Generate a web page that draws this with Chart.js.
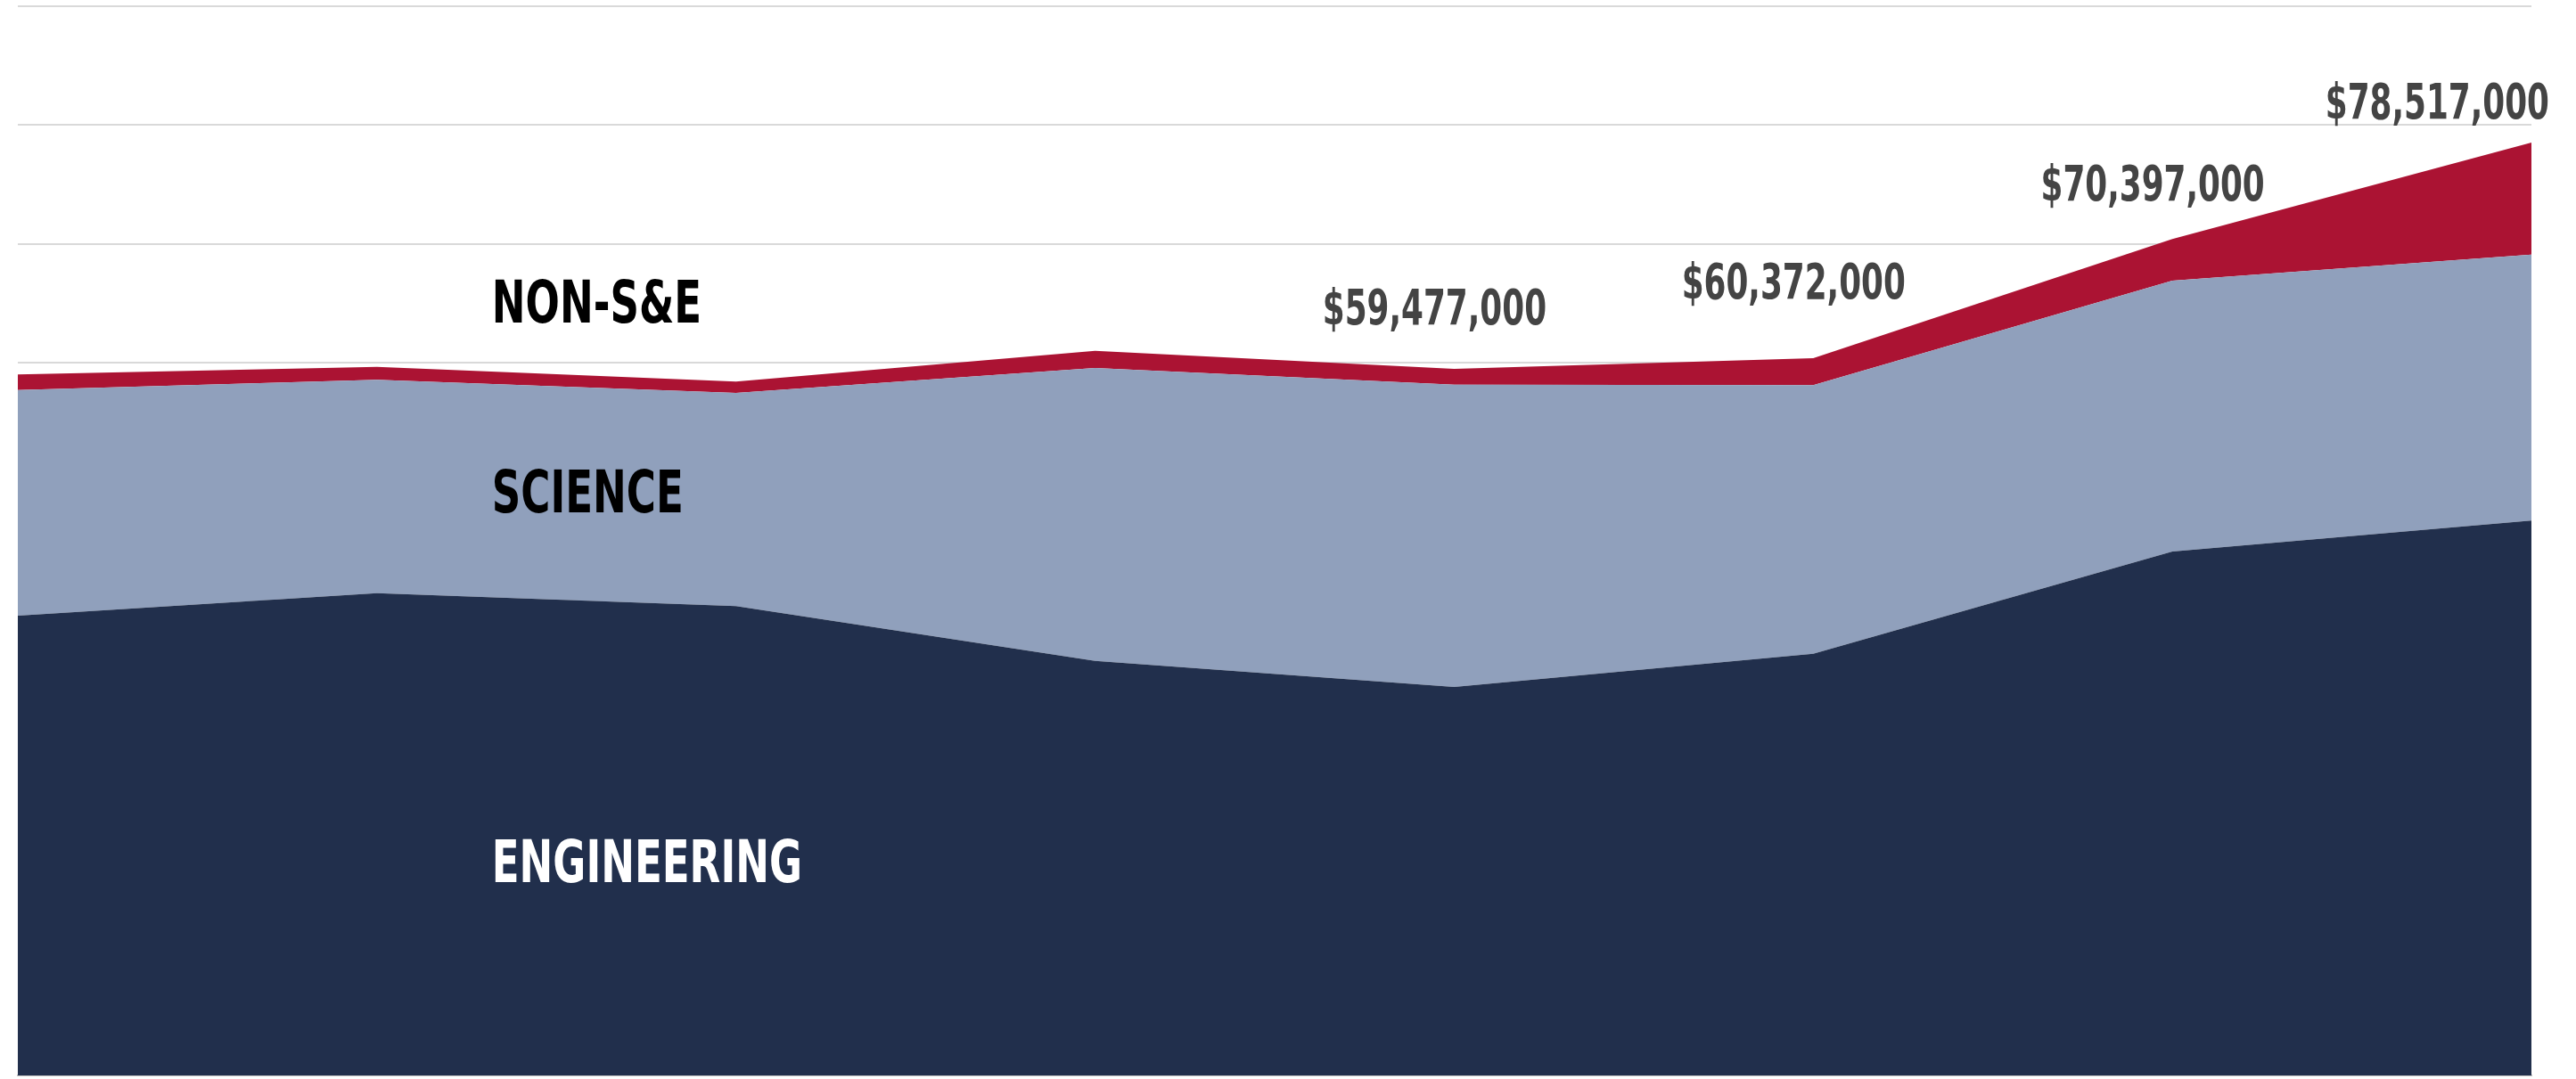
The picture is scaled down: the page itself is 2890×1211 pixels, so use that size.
<!DOCTYPE html>
<html lang="en">
<head>
<meta charset="UTF-8">
<title>Research Expenditures</title>
<script src="https://cdn.jsdelivr.net/npm/chart.js"></script>
<style>
    html, body { margin: 0; padding: 0; background: #fff; }
    #wrap { width: 2890px; height: 1211px; position: relative; }
</style>
</head>
<body>
<div id="wrap"><canvas id="fundingChart"></canvas></div>
<script>
    // values in millions of dollars
    const years = ['Y1', 'Y2', 'Y3', 'Y4', 'Y5', 'Y6', 'Y7', 'Y8'];
    const engineering = [38.7, 40.6, 39.5, 34.9, 32.7, 35.5, 44.1, 46.7];
    const science = [19.0, 17.95, 17.95, 24.65, 25.45, 22.6, 22.8, 22.4];
    const nonSE = [1.3, 1.1, 0.95, 1.45, 1.33, 2.27, 3.5, 9.42];
    const totalLabels = ['', '', '', '', '$59,477,000', '$60,372,000', '$70,397,000', '$78,517,000'];
    const yTicks = [0, 10, 20, 30, 40, 50, 60, 70, 80, 90];

    const seriesNames = ['ENGINEERING', 'SCIENCE', 'NON-S&E'];

    // no condensed face is installed, so the text is squeezed horizontally
    const labelFont = "bold 66px 'DejaVu Sans Condensed', 'DejaVu Sans', sans-serif";
    const totalFont = "bold 56px 'DejaVu Sans Condensed', 'DejaVu Sans', sans-serif";
    const labelSqueeze = 0.76;
    const totalSqueeze = 0.71;

    // gap (px) between the top of the stack and the bottom of each total label
    const totalLift = [0, 0, 0, 0, 50, 67, 43, 27];

    function squeezedText(ctx, text, px, py, sx) {
        ctx.save();
        ctx.translate(px, py);
        ctx.scale(sx, 1);
        ctx.fillText(text, 0, 0);
        ctx.restore();
    }

    // writes the series names and the totals on the chart
    const textPlugin = {
        id: 'textPlugin',
        afterDatasetsDraw(chart) {
            const ctx = chart.ctx;
            const x = chart.scales.x;
            const y = chart.scales.y;
            ctx.save();

            // series names sit inside their own band, baseline at the given value
            const names = [
                { text: seriesNames[0], at: 16.3, color: '#ffffff' },
                { text: seriesNames[1], at: 47.4, color: '#000000' },
                { text: seriesNames[2], at: 63.4, color: '#000000' }
            ];
            ctx.font = labelFont;
            ctx.textAlign = 'left';
            ctx.textBaseline = 'alphabetic';
            names.forEach(n => {
                ctx.fillStyle = n.color;
                squeezedText(ctx, n.text, x.getPixelForValue(1.32), y.getPixelForValue(n.at), labelSqueeze);
            });

            // totals above the last points
            ctx.font = totalFont;
            ctx.fillStyle = '#444444';
            ctx.textAlign = 'center';
            totalLabels.forEach((t, i) => {
                if (!t) return;
                const total = engineering[i] + science[i] + nonSE[i];
                const w = ctx.measureText(t).width * totalSqueeze;
                let cx = x.getPixelForValue(i) - 22;
                if (cx + w / 2 > chart.width - 30) cx = chart.width - 30 - w / 2;
                squeezedText(ctx, t, cx, y.getPixelForValue(total) - totalLift[i], totalSqueeze);
            });
            ctx.restore();
        }
    };

    const ctx = document.getElementById('fundingChart').getContext('2d');
    const fundingChart = new Chart(ctx, {
        type: 'line',
        data: {
            labels: years,
            datasets: [
                {
                    label: seriesNames[0],
                    data: engineering,
                    backgroundColor: '#212f4c',
                    borderWidth: 0,
                    fill: 'origin'
                },
                {
                    label: seriesNames[1],
                    data: science,
                    backgroundColor: '#90a0bc',
                    borderWidth: 0,
                    fill: '-1'
                },
                {
                    label: seriesNames[2],
                    data: nonSE,
                    backgroundColor: '#ab1333',
                    borderWidth: 0,
                    fill: '-1'
                }
            ]
        },
        options: {
            responsive: true,
            maintainAspectRatio: false,
            animation: false,
            devicePixelRatio: 1,
            layout: { padding: { left: 20, right: 50, top: 7, bottom: 4 } },
            elements: {
                point: { radius: 0, hoverRadius: 0 },
                line: { tension: 0, borderWidth: 0 }
            },
            plugins: {
                legend: { display: false },
                tooltip: { enabled: false }
            },
            scales: {
                x: {
                    type: 'category',
                    offset: false,
                    ticks: { display: false },
                    grid: { display: false, drawTicks: false },
                    border: { display: true, color: '#c4c4c4', width: 2 }
                },
                y: {
                    stacked: true,
                    min: 0,
                    max: 90,
                    afterBuildTicks(scale) {
                        scale.ticks = yTicks.map(v => ({ value: v }));
                    },
                    ticks: { display: false },
                    grid: { color: '#d9d9d9', lineWidth: 2, drawTicks: false },
                    border: { display: false }
                }
            }
        },
        plugins: [textPlugin]
    });
</script>
</body>
</html>
